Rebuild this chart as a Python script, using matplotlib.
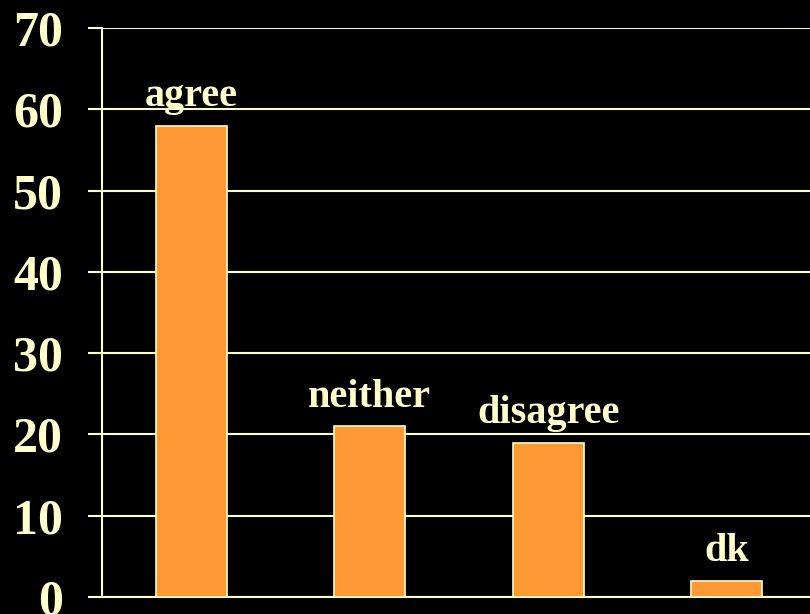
import matplotlib
matplotlib.use("Agg")
import matplotlib.pyplot as plt

# data
categories = ["agree", "neither", "disagree", "dk"]
values = [58, 21, 19, 2]
y_ticks = [0, 10, 20, 30, 40, 50, 60, 70]

CREAM = "#FFFFCC"
ORANGE = "#FF9933"

plt.rcParams["font.family"] = ["Liberation Serif", "DejaVu Serif"]
plt.rcParams["font.weight"] = "bold"

fig = plt.figure(figsize=(8.10, 6.14), dpi=100, facecolor="black")
ax = fig.add_axes([102 / 810, 17 / 614, 714 / 810, 569 / 614])
ax.set_facecolor("black")

x = list(range(len(categories)))
bars = ax.bar(x, values, width=0.4, color=ORANGE, edgecolor=CREAM,
              linewidth=1.2, zorder=3)

for xi, v, name in zip(x, values, categories):
    ax.annotate(name, (xi, v), xytext=(0, 14), textcoords="offset points",
                ha="center", va="baseline", color=CREAM,
                fontsize=29, fontweight="bold")

ax.set_xlim(-0.5, len(categories) - 0.5)
ax.set_ylim(0, 70)
ax.set_yticks(y_ticks)
ax.set_yticklabels([str(t) for t in y_ticks], fontsize=36,
                   fontweight="bold", color=CREAM)
ax.set_xticks([])
ax.yaxis.grid(True, color=CREAM, linewidth=1.5, zorder=0)
ax.tick_params(axis="y", length=10, width=1.5, color=CREAM, pad=18)

for side in ["top", "right"]:
    ax.spines[side].set_visible(False)
ax.spines["left"].set_color(CREAM)
ax.spines["bottom"].set_color(CREAM)
ax.spines["left"].set_linewidth(1.5)
ax.spines["bottom"].set_linewidth(1.5)

fig.savefig("out.png", dpi=100, facecolor="black")
